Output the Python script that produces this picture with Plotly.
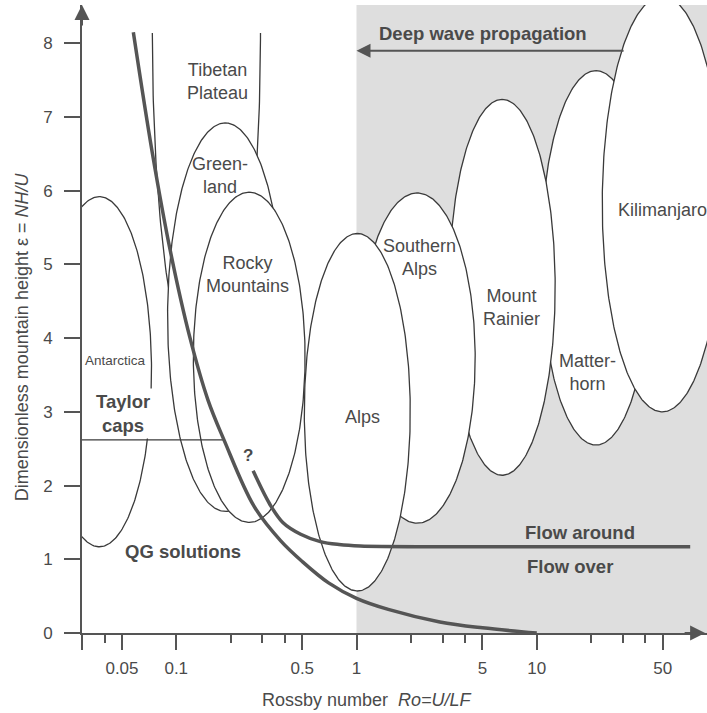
import numpy as np
import plotly.graph_objects as go

# mountain ellipses: centre Rossby number, half width (decades), epsilon range
mountains = ['Tibetan Plateau', 'Greenland', 'Rocky Mountains', 'Antarctica',
             'Matterhorn', 'Kilimanjaro', 'Mount Rainier', 'Southern Alps', 'Alps']
ro_centre = [0.147, 0.187, 0.254, 0.0374, 21.3, 49.7, 6.43, 2.17, 1.01]
ro_halfwidth = [0.30, 0.32, 0.31, 0.29, 0.305, 0.333, 0.294, 0.322, 0.294]
eps_bottom = [3.28, 1.65, 1.50, 1.17, 2.55, 3.00, 2.14, 1.49, 0.57]
eps_top = [13.0, 6.92, 5.98, 5.92, 7.63, 8.64, 7.24, 5.97, 5.42]
tibet_cut = 8.15

# QG boundary (thick steep curve)
qg_ro = [0.0578, 0.0736, 0.0926, 0.119, 0.150, 0.184, 0.27, 0.38, 0.5, 0.7,
         1.0, 1.5, 2.9, 5, 10]
qg_eps = [8.15, 6.52, 5.19, 4.01, 3.16, 2.62, 1.72, 1.25, 0.97, 0.68,
          0.47, 0.32, 0.15, 0.07, 0.0]

# flow around / flow over boundary
flow_ro = [0.267, 0.33, 0.39, 0.49, 0.63, 0.8, 1.05, 3, 71]
flow_eps = [2.2, 1.75, 1.5, 1.34, 1.24, 1.2, 1.18, 1.17, 1.17]

# Taylor caps line
taylor_ro = [0.03, 0.184]
taylor_eps = [2.62, 2.62]

# deep wave propagation shaded region
shade_ro = [1, 90, 90, 1]
shade_eps = [0, 0, 8.6, 8.6]

xticks = [0.03, 0.05, 0.1, 0.5, 1, 5, 10, 50]
xticklabels = ['', '0.05', '0.1', '0.5', '1', '5', '10', '50']
xminor = [0.04, 0.2, 0.3, 0.4, 2, 3, 4, 20, 30, 40]
yticks = [0, 1, 2, 3, 4, 5, 6, 7, 8]

ink = '#3a3a3a'
txt = '#4a4a4a'
FONT = 'Liberation Sans, Arial, sans-serif'

fig = go.Figure()

fig.add_trace(go.Scatter(x=shade_ro, y=shade_eps, mode='lines', fill='toself',
                         fillcolor='#dedede', line=dict(width=0),
                         hoverinfo='skip', showlegend=False))

t = np.linspace(0, 2 * np.pi, 361) + np.pi / 2
for name, rc, hw, lo, hi in zip(mountains, ro_centre, ro_halfwidth, eps_bottom, eps_top):
    cx = np.log10(rc)
    cy = (lo + hi) / 2
    b = (hi - lo) / 2
    xs = 10 ** (cx + hw * np.cos(t))
    ys = cy + b * np.sin(t)
    if name == 'Tibetan Plateau':
        keep = ys <= tibet_cut
        xs, ys = xs[keep], ys[keep]
    fig.add_trace(go.Scatter(x=xs, y=ys, mode='lines', fill='toself',
                             fillcolor='white', line=dict(color=ink, width=1.3),
                             hoverinfo='skip', showlegend=False, name=name))

fig.add_trace(go.Scatter(x=taylor_ro, y=taylor_eps, mode='lines',
                         line=dict(color=ink, width=1.3), showlegend=False))
fig.add_trace(go.Scatter(x=qg_ro, y=qg_eps, mode='lines', line_shape='spline',
                         line=dict(color='#555555', width=3.5), showlegend=False))
fig.add_trace(go.Scatter(x=flow_ro, y=flow_eps, mode='lines', line_shape='spline',
                         line=dict(color='#555555', width=3.5), showlegend=False))


def label(ro, eps, text, size=18, bold=False, **kw):
    if bold:
        text = '<b>' + text + '</b>'
    fig.add_annotation(x=np.log10(ro), y=eps, text=text, showarrow=False,
                       font=dict(family=FONT, size=size, color=txt), **kw)


label(0.169, 7.48, 'Tibetan<br>Plateau')
label(0.175, 6.21, 'Green-<br>land')
label(0.248, 4.87, 'Rocky<br>Mountains')
label(0.0459, 3.70, 'Antarctica', size=13.5)
label(0.0507, 2.98, 'Taylor<br>caps', size=18.5, bold=True, bgcolor='white', borderpad=2)
label(0.25, 2.41, '?', size=17, bold=True)
label(0.109, 1.10, 'QG solutions', size=18.5, bold=True)
label(1.08, 2.93, 'Alps')
label(2.25, 5.10, 'Southern<br>Alps')
label(7.2, 4.42, 'Mount<br>Rainier')
label(19.1, 3.54, 'Matter-<br>horn')
label(49.7, 5.74, 'Kilimanjaro')
label(17.4, 1.37, 'Flow around', size=18.5, bold=True)
label(15.3, 0.90, 'Flow over', size=18.5, bold=True)
label(5.04, 8.13, 'Deep wave propagation', size=18.5, bold=True)

# deep wave arrow
fig.add_annotation(x=0, y=7.9, ax=np.log10(30.9), ay=7.9, axref='x', ayref='y',
                   text='', showarrow=True, arrowhead=2, arrowsize=1.4,
                   arrowwidth=2, arrowcolor='#555555')

# axis arrows
fig.add_annotation(xref='paper', yref='paper', x=0, y=1, ax=0, ay=22, text='',
                   showarrow=True, arrowhead=2, arrowsize=1.5, arrowwidth=2,
                   arrowcolor='#555555')
fig.add_annotation(xref='paper', yref='paper', x=0.997, y=0, ax=-22, ay=0, text='',
                   showarrow=True, arrowhead=2, arrowsize=1.5, arrowwidth=2,
                   arrowcolor='#555555')

# axis titles
fig.add_annotation(xref='paper', yref='paper', x=-0.096, y=0.471, textangle=-90,
                   xanchor='center', yanchor='middle',
                   text='Dimensionless mountain height ε = <i>NH/U</i>',
                   showarrow=False, font=dict(family=FONT, size=18, color=txt))
fig.add_annotation(xref='paper', yref='paper', x=0.456, y=-0.107,
                   xanchor='center', yanchor='middle',
                   text='Rossby number\u00a0\u00a0<i>Ro=U/LF</i>',
                   showarrow=False, font=dict(family=FONT, size=18, color=txt))

fig.update_layout(
    width=707, height=713,
    margin=dict(l=82, r=0, t=5, b=80),
    paper_bgcolor='white', plot_bgcolor='white',
    font=dict(family=FONT, color=txt),
    xaxis=dict(type='log', range=[np.log10(0.03), np.log10(88)],
               showline=True, linecolor='#555555', linewidth=2,
               ticks='outside', ticklen=15, tickwidth=2, tickcolor='#555555',
               tickvals=xticks, ticktext=xticklabels,
               tickfont=dict(size=17, color=txt), ticklabelstandoff=4,
               showgrid=False, zeroline=False,
               minor=dict(tickvals=xminor, ticks='outside', ticklen=8,
                          tickwidth=2, tickcolor='#555555', showgrid=False)),
    yaxis=dict(range=[0, 8.52], showline=True, linecolor='#555555', linewidth=2,
               ticks='outside', ticklen=16, tickwidth=2, tickcolor='#555555',
               tickvals=yticks, tickfont=dict(size=17, color=txt),
               ticklabelstandoff=8, showgrid=False, zeroline=False),
)

fig.write_html('out.html', config={'displayModeBar': False},
               post_script="document.body.style.margin='0';"
                           "document.body.style.overflow='hidden';")
